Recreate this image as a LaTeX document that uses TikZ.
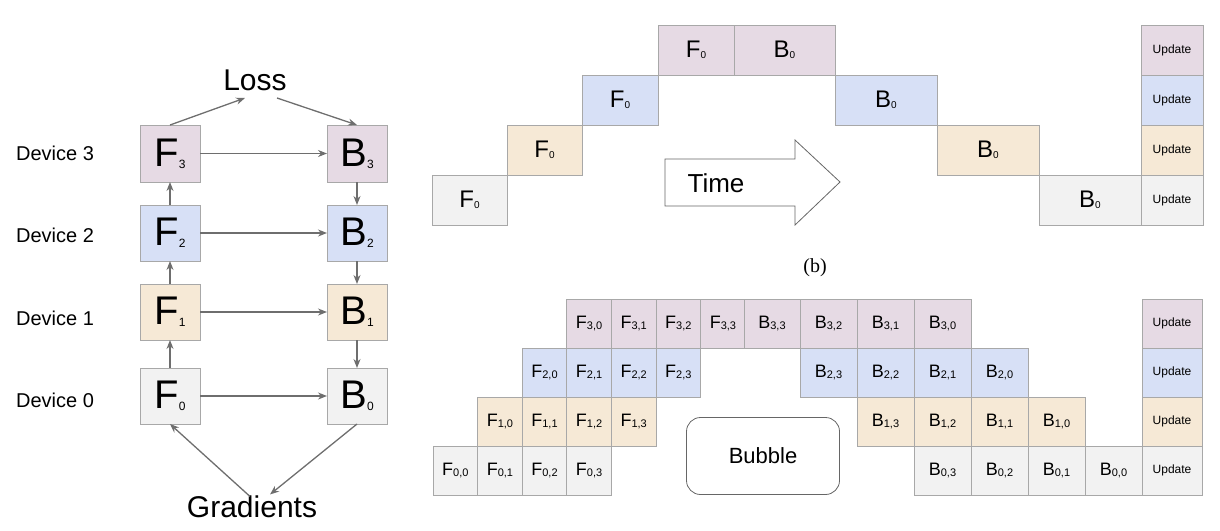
\documentclass[tikz,border=0pt]{standalone}
\usepackage{fontspec}
\setmainfont{Liberation Sans}
\newfontfamily\serifb{Liberation Serif}
\usetikzlibrary{arrows.meta}
\definecolor{cpur}{HTML}{E6DAE4}
\definecolor{cblu}{HTML}{D7E0F6}
\definecolor{ctan}{HTML}{F6E9D6}
\definecolor{cgry}{HTML}{F2F2F2}
\definecolor{cedge}{HTML}{A8A8A8}
\definecolor{carr}{HTML}{6E6E6E}
\tikzset{
  cell/.style={draw=cedge, line width=1pt, inner sep=0pt, outer sep=0pt, text=black},
  flow/.style={-{Stealth[length=9pt,width=7pt]}, draw=carr, line width=1.3pt},
}
% \gbox{name}{x1}{y1}{x2}{y2}{colour}{size}{text}
\newcommand{\gbox}[8]{%
  \node[cell, fill=#6, minimum width={(#4-#2)*1pt}, minimum height={(#5-#3)*1pt},
    font=\fontsize{#7}{#7}\selectfont] (#1) at ({(#2+#4)/2},{(#3+#5)/2}) {#8};}
\newcommand{\lbl}[3]{#1\raisebox{-0.05em}{\fontsize{#2}{#2}\selectfont #3}}
\begin{document}
\begin{tikzpicture}[x=1pt, y=-1pt]
  \useasboundingbox (0,0) rectangle (1220,530);

  % left: one micro-batch over four devices
  \gbox{f3}{140}{125}{200}{182}{cpur}{40}{\lbl{F}{12}{3}}
  \gbox{f2}{140}{205}{200}{261}{cblu}{40}{\lbl{F}{12}{2}}
  \gbox{f1}{140}{284}{200}{340}{ctan}{40}{\lbl{F}{12}{1}}
  \gbox{f0}{140}{368}{200}{424}{cgry}{40}{\lbl{F}{12}{0}}
  \gbox{b3}{327}{125}{387}{182}{cpur}{40}{\lbl{B}{12}{3}}
  \gbox{b2}{327}{205}{387}{261}{cblu}{40}{\lbl{B}{12}{2}}
  \gbox{b1}{327}{284}{387}{340}{ctan}{40}{\lbl{B}{12}{1}}
  \gbox{b0}{327}{368}{387}{424}{cgry}{40}{\lbl{B}{12}{0}}
  \foreach \d/\y in {3/153, 2/235, 1/318, 0/400}
    \node[font=\fontsize{20}{20}\selectfont] (dev\d) at (55,\y) {Device \d};
  \node[font=\fontsize{30}{30}\selectfont] (loss) at (255,80) {Loss};
  \node[font=\fontsize{30}{30}\selectfont] (grad) at (252,507) {Gradients};

  \draw[flow] (f0) -- (f1);
  \draw[flow] (f1) -- (f2);
  \draw[flow] (f2) -- (f3);
  \foreach \i in {0,1,2,3}
    \draw[flow] (f\i) -- (b\i);
  \draw[flow] (b3) -- (b2);
  \draw[flow] (b2) -- (b1);
  \draw[flow] (b1) -- (b0);
  \draw[flow] (f3.north) -- ([xshift=-10pt,yshift=-4pt]loss.south);
  \draw[flow] ([xshift=22pt,yshift=-4pt]loss.south) -- (b3.north);
  \draw[flow] (b0.south) -- ([xshift=18pt,yshift=-2pt]grad.north);
  \draw[flow] ([xshift=-2pt,yshift=-4pt]grad.north) -- (f0.south);

  % top right: naive model parallelism
  \gbox{tf0}{432}{175}{507}{225}{cgry}{24}{\lbl{F}{10}{0}}
  \gbox{tf1}{507}{125}{582}{175}{ctan}{24}{\lbl{F}{10}{0}}
  \gbox{tf2}{582}{75}{658}{125}{cblu}{24}{\lbl{F}{10}{0}}
  \gbox{tf3}{658}{25}{734}{75}{cpur}{24}{\lbl{F}{10}{0}}
  \gbox{tb3}{734}{25}{835}{75}{cpur}{24}{\lbl{B}{10}{0}}
  \gbox{tb2}{835}{75}{937}{125}{cblu}{24}{\lbl{B}{10}{0}}
  \gbox{tb1}{937}{125}{1039}{175}{ctan}{24}{\lbl{B}{10}{0}}
  \gbox{tb0}{1039}{175}{1141}{225}{cgry}{24}{\lbl{B}{10}{0}}
  \gbox{tu3}{1141}{25}{1203}{75}{cpur}{12}{Update}
  \gbox{tu2}{1141}{75}{1203}{125}{cblu}{12}{Update}
  \gbox{tu1}{1141}{125}{1203}{175}{ctan}{12}{Update}
  \gbox{tu0}{1141}{175}{1203}{225}{cgry}{12}{Update}
  \draw[draw=black!60, line width=0.8pt, fill=white]
    (665,159) -- (795,159) -- (795,140) -- (840,182) -- (795,225) -- (795,206) -- (665,206) -- cycle;
  \node[font=\fontsize{26}{26}\selectfont] (time) at (716,183) {Time};
  \node[font=\serifb\fontsize{20}{20}\selectfont] (capb) at (815,268) {(b)};

  % bottom right: pipeline with four micro-batches
  \foreach \r/\col/\yt in {3/cpur/299, 2/cblu/348, 1/ctan/397, 0/cgry/446} {
    \foreach \m in {0,1,2,3} {
      \pgfmathsetmacro{\xa}{433+(\r+\m)*44.6}
      \pgfmathsetmacro{\xb}{\xa+44.6}
      \gbox{pf\r\m}{\xa}{\yt}{\xb}{\yt+49}{\col}{18}{\lbl{F}{11}{\r,\m}}
    }
    \gbox{pu\r}{1142}{\yt}{1202}{\yt+49}{\col}{12}{Update}
  }
  \gbox{pb33}{744}{299}{800}{348}{cpur}{18}{\lbl{B}{11}{3,3}}
  \foreach \m/\xa in {2/800, 1/857, 0/914}
    \gbox{pb3\m}{\xa}{299}{\xa+57}{348}{cpur}{18}{\lbl{B}{11}{3,\m}};
  \foreach \m/\xa in {3/800, 2/857, 1/914, 0/971}
    \gbox{pb2\m}{\xa}{348}{\xa+57}{397}{cblu}{18}{\lbl{B}{11}{2,\m}};
  \foreach \m/\xa in {3/857, 2/914, 1/971, 0/1028}
    \gbox{pb1\m}{\xa}{397}{\xa+57}{446}{ctan}{18}{\lbl{B}{11}{1,\m}};
  \foreach \m/\xa in {3/914, 2/971, 1/1028, 0/1085}
    \gbox{pb0\m}{\xa}{446}{\xa+57}{495}{cgry}{18}{\lbl{B}{11}{0,\m}};
  \node[draw=black!60, line width=0.8pt, rounded corners=14pt, minimum width=153pt,
    minimum height=77pt, font=\fontsize{22}{22}\selectfont] (bubble) at (763,456) {Bubble};
\end{tikzpicture}
\end{document}
